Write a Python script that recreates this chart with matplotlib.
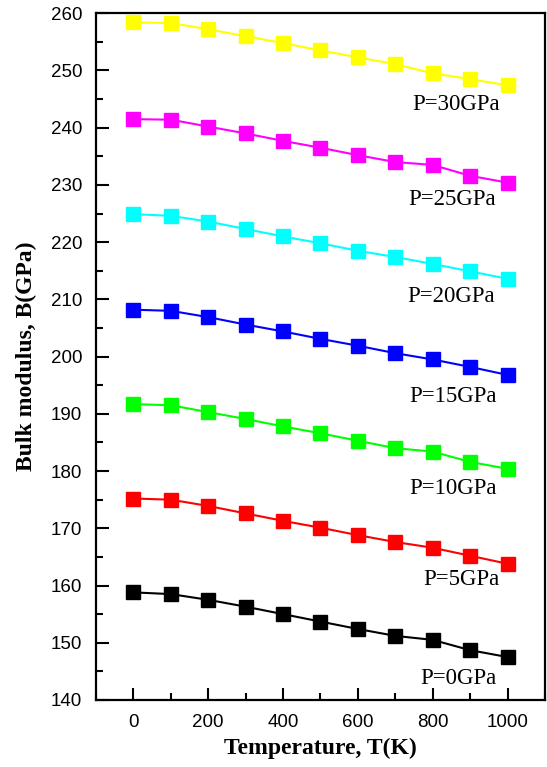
import numpy as np
import matplotlib
matplotlib.use("Agg")
import matplotlib.pyplot as plt
from matplotlib.ticker import MultipleLocator

# temperature grid (K)
T = [0, 100, 200, 300, 400, 500, 600, 700, 800, 900, 1000]

# bulk modulus B (GPa) at each pressure
B_0 = [158.8, 158.5, 157.5, 156.3, 155.0, 153.7, 152.4, 151.2, 150.5, 148.7, 147.5]
B_5 = [175.2, 175.0, 173.9, 172.6, 171.3, 170.1, 168.8, 167.6, 166.6, 165.2, 163.8]
B_10 = [191.7, 191.5, 190.3, 189.1, 187.8, 186.6, 185.3, 184.0, 183.4, 181.6, 180.4]
B_15 = [208.2, 208.0, 206.9, 205.6, 204.4, 203.1, 201.9, 200.6, 199.5, 198.2, 196.8]
B_20 = [224.9, 224.6, 223.6, 222.3, 221.0, 219.8, 218.5, 217.4, 216.2, 214.9, 213.6]
B_25 = [241.5, 241.4, 240.2, 239.0, 237.7, 236.5, 235.2, 234.0, 233.5, 231.6, 230.4]
B_30 = [258.4, 258.3, 257.2, 256.0, 254.8, 253.5, 252.3, 251.1, 249.5, 248.5, 247.4]

labels = ["P=0GPa", "P=5GPa", "P=10GPa", "P=15GPa", "P=20GPa", "P=25GPa", "P=30GPa"]
colors = ["#000000", "#ff0000", "#00ff00", "#0000ff", "#00ffff", "#ff00ff", "#ffff00"]
series = [B_0, B_5, B_10, B_15, B_20, B_25, B_30]

# where each pressure label sits (T, B)
label_T = [868, 876, 854, 854, 850, 851, 862]
label_B = [143.8, 161.0, 177.0, 193.0, 210.5, 227.4, 244.0]

fig = plt.figure(figsize=(5.47, 7.67), dpi=100)
ax = fig.add_axes([0.1755, 0.0874, 0.8208, 0.8953])

for B, c in zip(series, colors):
    ax.plot(T, B, color=c, lw=1.5, marker="s", ms=9.5, mec=c, mfc=c)

for lab, xt, yt in zip(labels, label_T, label_B):
    ax.text(xt, yt, lab, ha="center", va="center", fontsize=16.5,
            family="Liberation Serif")

ax.set_xlim(-100, 1100)
ax.set_ylim(140, 260)
ax.xaxis.set_major_locator(MultipleLocator(200))
ax.xaxis.set_minor_locator(MultipleLocator(100))
ax.yaxis.set_major_locator(MultipleLocator(10))
ax.yaxis.set_minor_locator(MultipleLocator(5))

ax.tick_params(which="major", direction="in", length=9, width=1.5, pad=10,
               labelsize=13.5)
ax.tick_params(which="minor", direction="in", length=5, width=1.5)
for lbl in ax.get_xticklabels() + ax.get_yticklabels():
    lbl.set_family("Liberation Sans")
for s in ax.spines.values():
    s.set_linewidth(1.6)

ax.set_xlabel("Temperature, T(K)", fontsize=17, fontweight="bold",
              family="Liberation Serif", labelpad=5)
ax.set_ylabel("Bulk modulus, B(GPa)", fontsize=17, fontweight="bold",
              family="Liberation Serif")
ax.yaxis.set_label_coords(-0.131, 0.5)

fig.savefig("out.png", dpi=100)
